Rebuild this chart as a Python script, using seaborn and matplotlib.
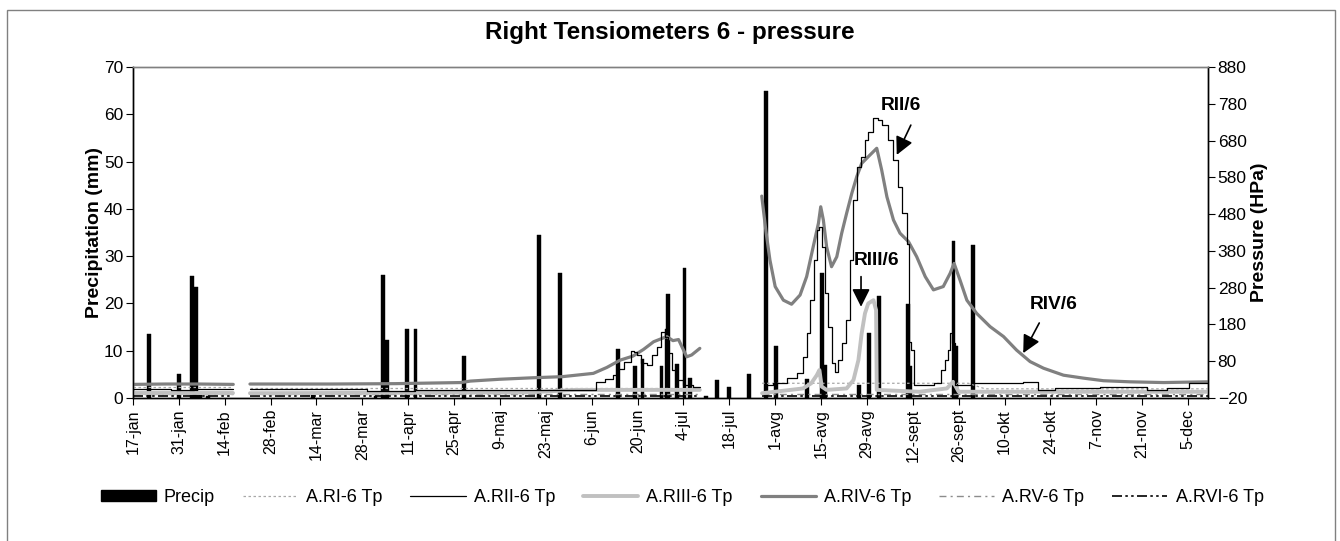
import numpy as np
import pandas as pd
import matplotlib
matplotlib.use("Agg")
import matplotlib.pyplot as plt
import seaborn as sns
from matplotlib.patches import Patch, Rectangle
from matplotlib.lines import Line2D

# ---------------- data ----------------
tick_labels = ['17-jan', '31-jan', '14-feb', '28-feb', '14-mar', '28-mar', '11-apr', '25-apr',
               '9-maj', '23-maj', '6-jun', '20-jun', '4-jul', '18-jul', '1-avg', '15-avg',
               '29-avg', '12-sept', '26-sept', '10-okt', '24-okt', '7-nov', '21-nov', '5-dec']
tick_days = [0, 14, 28, 42, 56, 70, 84, 98, 112, 126, 140, 154, 168, 182, 196, 210,
             224, 238, 252, 266, 280, 294, 308, 322]

# precipitation (mm), day counted from 17-jan
precip_day = [5, 14, 18, 19.3, 20.5, 23, 55, 74, 76.3, 77.5, 83.7, 86.2, 101, 124, 130.3,
              148, 153.2, 155.5, 161.3, 162.8, 163.4, 166, 168.3, 170, 175, 178.3, 182, 188,
              193.1, 196.2, 205.6, 210.4, 211.2, 221.6, 224.6, 227.6, 236.5, 237.3,
              250.4, 251.2, 256.3]
precip_mm = [13.5, 5.0, 25.7, 23.5, 0.6, 0.5, 0.6, 0.5, 26.1, 12.3, 14.5, 14.5, 8.9, 34.5, 26.4,
             10.4, 6.8, 8.2, 6.8, 14.5, 21.9, 7.1, 27.4, 4.2, 0.5, 3.8, 2.4, 5.0,
             64.9, 11.0, 4.0, 26.5, 7.0, 2.7, 13.8, 21.6, 19.8, 6.8,
             33.1, 10.9, 32.3]

# pressure series (hPa) : list of segments (days, values)
RI_seg = [([0, 30.6], [10, 10]),
          ([35.7, 173], [8, 8]),
          ([192, 255, 260, 328], [20, 20, 5, 5])]

RII_seg = [([0, 8, 15, 22, 30.6], [4, 5, 3, 5, 4]),
           ([35.7, 50, 71, 72, 100, 120, 140, 142.5, 145.6, 147.2, 148.8, 151.1, 152.6, 153.3,
             154.2, 155.8, 157.8, 159.3, 160.3, 161.9, 162.9, 163.9, 165.4, 166.9, 169, 173],
            [4, 4, 4, 0, 1, 1, 2, 23, 32, 42, 58, 79, 108, 106, 97, 74, 70, 97, 120, 160, 147,
             101, 56, 29, 15, 9]),
           ([193, 197.5, 201.6, 203.6, 205.1, 206.1, 207.2, 208.2, 209.2, 209.7, 210.7, 211.7,
             212.8, 213.8, 214.8, 215.8, 216.8, 218.4, 219.4, 220.4, 221.7, 222.9, 223.9, 225,
             226.5, 228, 229.5, 231.1, 232.6, 234.1, 235.6, 236.7, 237.2, 238, 238.5, 243, 246,
             247.3, 248.4, 249.2, 249.6, 250.4, 251.4, 260, 267.7, 275.8, 276.8, 286, 304.3,
             314.5, 316.5, 328],
            [15, 20, 34, 47, 92, 156, 246, 355, 437, 446, 391, 265, 174, 74, 52, 83, 129, 192,
             355, 518, 609, 636, 681, 704, 740, 736, 722, 681, 627, 554, 482, 400, 133, 110, 15,
             15, 22, 56, 83, 110, 156, 129, 15, 20, 20, 24, 2, 6, 11, 2, 6, 20])]

RIII_seg = [([0, 30.6], [-7, -7]),
            ([35.7, 120, 135, 173], [-7, -5, 2, 2]),
            ([192, 204.5, 207, 208.7, 209.5, 210.2, 211.7, 217.8, 219.9, 221.4, 222.4, 223.4,
              224.4, 226, 226.8, 227, 240, 248.4, 250.3, 252, 328],
             [-7, 6, 20, 42, 56, 11, 2, 6, 29, 83, 156, 210, 237, 246, 219, 2, -3, 6, 24, -3, -3])]

RIV_seg = [([0, 10, 20, 30.6], [17, 18, 18, 17]),
           ([35.7, 60, 80, 100, 103, 112, 122, 131, 140.5, 144.6, 148.7, 152.6, 155.8, 158.9,
             160.9, 162.9, 164.8, 166.5, 167.5, 169, 170.5, 173],
            [18, 18, 19, 22, 26, 31, 35, 38, 47, 63, 83, 94, 112, 133, 140, 147, 136, 139, 120,
             92, 97, 115]),
           ([191.9, 193.2, 194.4, 196, 198.5, 201, 203.6, 205.6, 207.6, 209.2, 209.9, 210.7,
             211.7, 213.2, 214.8, 216.3, 217.8, 219.4, 220.9, 222.4, 224.4, 227, 228.5, 230.1,
             232.1, 234.1, 236.7, 239.2, 241.8, 244.3, 247.3, 249.4, 250.6, 252.4, 254.5, 257.5,
             261.6, 265.7, 269.7, 273.8, 277.9, 284, 290.1, 296.2, 304.3, 314.5, 328],
            [529, 432, 355, 283, 246, 235, 260, 310, 391, 455, 500, 464, 391, 337, 364, 428, 482,
             537, 582, 618, 636, 659, 600, 527, 464, 428, 405, 364, 310, 274, 283, 319, 346, 301,
             246, 210, 174, 147, 110, 79, 61, 42, 34, 27, 24, 22, 24])]

RV_seg = [([0, 30.6], [-9, -9]),
          ([35.7, 173], [-9, -9]),
          ([192, 328], [-9, -9])]

RVI_seg = [([0, 30.6], [-15, -15]),
           ([35.7, 173], [-14, -14]),
           ([192, 328], [-14, -14])]


def to_df(segs):
    rows = []
    for i, (d, v) in enumerate(segs):
        for a, b in zip(d, v):
            rows.append((i, a, b))
    return pd.DataFrame(rows, columns=["seg", "day", "p"])


# ---------------- styling ----------------
sns.set_theme(style="white")
plt.rcParams['font.family'] = ['Liberation Sans', 'DejaVu Sans']
plt.rcParams['text.color'] = 'black'
plt.rcParams['axes.labelcolor'] = 'black'
plt.rcParams['xtick.color'] = 'black'
plt.rcParams['ytick.color'] = 'black'

fig = plt.figure(figsize=(13.4, 5.41), dpi=100)
ax = fig.add_axes([133 / 1340, 1 - 398 / 541, (1208 - 133) / 1340, (398 - 67) / 541])
ax2 = ax.twinx()

# bars
ax.bar(precip_day, precip_mm, width=1.15, color="black", edgecolor="black", linewidth=0.3,
       align="center", zorder=2)
ax.set_ylim(0, 70)
ax.set_yticks(range(0, 71, 10))
ax.set_xlim(0, 328.1)
ax.set_xticks(tick_days)
ax.set_xticklabels(tick_labels, rotation=90)
ax.set_ylabel("Precipitation (mm)", fontsize=14, fontweight="bold", labelpad=1, color="black")

series = [
    (RI_seg, dict(color="#a8a8a8", lw=0.9, ls=(0, (2, 2)), ds="default")),
    (RV_seg, dict(color="#8c8c8c", lw=1.0, ls=(0, (5, 3, 1.5, 3)), ds="default")),
    (RVI_seg, dict(color="black", lw=1.2, ls=(0, (6, 2, 1.5, 2, 1.5, 2)), ds="default")),
    (RIII_seg, dict(color="#c0c0c0", lw=2.8, ls="-", ds="default")),
    (RIV_seg, dict(color="#808080", lw=2.3, ls="-", ds="default")),
    (RII_seg, dict(color="black", lw=0.9, ls="-", ds="steps-mid")),
]
for segs, st in series:
    df = to_df(segs)
    sns.lineplot(data=df, x="day", y="p", units="seg", estimator=None, sort=False,
                 ax=ax2, color=st["color"], linewidth=st["lw"], linestyle=st["ls"],
                 drawstyle=st["ds"], legend=False)

ax2.set_ylim(-20, 880)
ax2.set_yticks(range(-20, 881, 100))
ax2.set_ylabel("Pressure (HPa)", fontsize=14, fontweight="bold", labelpad=3, color="black")
ax2.set_xlabel("")
ax.set_xlabel("")

for a in (ax, ax2):
    a.tick_params(axis="both", which="major", length=5, width=0.8, direction="out",
                  labelsize=12.5, pad=2, colors="black")
    for s in ("left", "right", "bottom"):
        a.spines[s].set_color("black")
        a.spines[s].set_linewidth(1.0)
    a.spines["top"].set_color("#808080")
    a.spines["top"].set_linewidth(1.0)
ax.tick_params(axis="x", labelsize=11.5, pad=3)
ax.tick_params(axis="y", left=True, right=False)
ax2.tick_params(axis="y", right=True, left=False)
ax.tick_params(axis="x", bottom=True)

# annotations
arrow = dict(arrowstyle="-|>,head_length=0.9,head_width=0.45", color="black", lw=1.2,
             shrinkA=0, shrinkB=0)
ax2.text(234.4, 776, "RII/6", fontsize=13.8, fontweight="bold", ha="center", va="center",
         color="black")
ax2.annotate("", xy=(233.1, 641), xytext=(237.4, 722), arrowprops=arrow)
ax2.text(226.8, 355, "RIII/6", fontsize=13.8, fontweight="bold", ha="center", va="center",
         color="black")
ax2.annotate("", xy=(222.2, 228), xytext=(222.2, 310), arrowprops=arrow)
ax2.text(281.1, 233, "RIV/6", fontsize=13.8, fontweight="bold", ha="center", va="center",
         color="black")
ax2.annotate("", xy=(271.7, 102), xytext=(276.6, 184), arrowprops=arrow)

# title
fig.text(0.5, 1 - 33 / 541, "Right Tensiometers 6 - pressure", ha="center", va="center",
         fontsize=17.5, fontweight="bold", color="black")

# legend
handles = [Patch(facecolor="black", edgecolor="black"),
           Line2D([], [], color="#a8a8a8", lw=0.9, ls=(0, (2, 2))),
           Line2D([], [], color="black", lw=0.9),
           Line2D([], [], color="#c0c0c0", lw=2.8),
           Line2D([], [], color="#808080", lw=2.3),
           Line2D([], [], color="#8c8c8c", lw=1.0, ls=(0, (5, 3, 1.5, 3))),
           Line2D([], [], color="black", lw=1.2, ls=(0, (6, 2, 1.5, 2, 1.5, 2)))]
labels = ["Precip", "A.RI-6 Tp", "A.RII-6 Tp", "A.RIII-6 Tp", "A.RIV-6 Tp", "A.RV-6 Tp",
          "A.RVI-6 Tp"]
leg = fig.legend(handles, labels, ncol=7, loc="center", bbox_to_anchor=(0.509, 1 - 497 / 541),
                 frameon=False, fontsize=13, handlelength=3.05, handleheight=0.55,
                 columnspacing=1.55, handletextpad=0.45)
for t in leg.get_texts():
    t.set_color("black")

# outer border
fig.patches.append(Rectangle((7 / 1340, -0.05), (1335 - 7) / 1340, 1 - 10 / 541 + 0.05,
                             transform=fig.transFigure, fill=False, edgecolor="#808080",
                             lw=1.0))

fig.savefig("out.png", dpi=100)
